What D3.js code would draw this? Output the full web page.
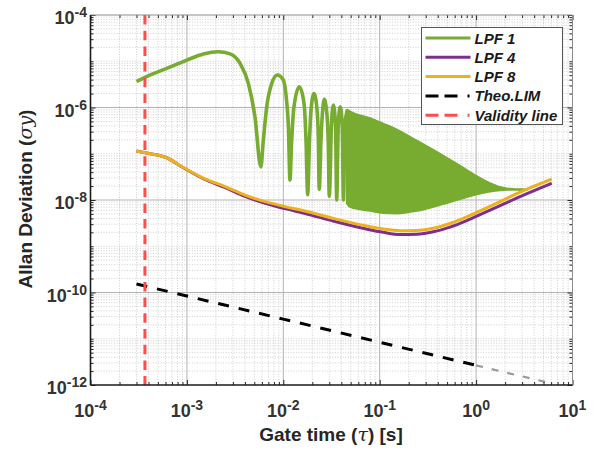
<!DOCTYPE html>
<html><head><meta charset="utf-8">
<script src="https://cdn.jsdelivr.net/npm/d3@7"></script>
<style>body{margin:0;background:#fff}</style>
</head><body>
<svg id="c" width="596" height="455"></svg>
<script>
// ---------------- data ----------------
const xTicks = [1e-4, 1e-3, 1e-2, 1e-1, 1, 10];
const xTickExp = ["-4", "-3", "-2", "-1", "0", "1"];
const yTicks = [1e-12, 1e-10, 1e-8, 1e-6, 1e-4];
const yTickExp = ["-12", "-10", "-8", "-6", "-4"];

const seriesNames = ["LPF 1", "LPF 4", "LPF 8", "Theo.LIM", "Validity line"];

// LPF 1: resolved lobes
const lpf1Tau = [3.0e-4, 3.67e-4, 6.17e-4, 1.0e-3, 1.48e-3, 2.12e-3, 2.80e-3, 3.56e-3, 4.34e-3, 5.08e-3,
  5.85e-3, 6.21e-3, 6.73e-3, 7.59e-3, 8.67e-3, 1.0e-2, 1.08e-2, 1.13e-2,
  1.172e-2, 1.222e-2, 1.291e-2, 1.465e-2, 1.64e-2, 1.72e-2,
  1.79e-2, 1.87e-2, 1.94e-2, 2.08e-2, 2.24e-2, 2.31e-2,
  2.36e-2, 2.46e-2, 2.54e-2, 2.66e-2, 2.84e-2, 2.93e-2,
  3.00e-2, 3.16e-2, 3.31e-2, 3.48e-2,
  3.58e-2, 3.72e-2, 3.90e-2, 4.08e-2,
  4.21e-2, 4.36e-2, 4.62e-2];
const lpf1Val = [3.65e-6, 4.5e-6, 7.0e-6, 1.06e-5, 1.44e-5, 1.61e-5, 1.44e-5, 9.0e-6, 3.33e-6, 6.3e-7,
  5.2e-8, 1.98e-7, 1.04e-6, 3.33e-6, 5.05e-6, 3.94e-6, 1.45e-6, 3.85e-7,
  2.7e-8, 1.98e-7, 1.04e-6, 2.8e-6, 1.23e-6, 1.98e-7,
  1.3e-8, 1.98e-7, 8.8e-7, 2.0e-6, 8.8e-7, 1.98e-7,
  1.7e-8, 1.98e-7, 6.9e-7, 1.5e-6, 6.9e-7, 1.56e-7,
  1.2e-8, 4.2e-7, 1.13e-6, 4.2e-7,
  1.0e-8, 4.2e-7, 1.04e-6, 4.2e-7,
  1.0e-8, 4.2e-7, 8.8e-7];
// LPF 1: dense oscillation band (upper / lower envelope)
const lpf1BandTau = [0.046, 0.0492, 0.0793, 0.109, 0.15, 0.242, 0.333, 0.536, 0.681, 1.01, 1.39, 1.77, 2.07, 2.41, 3.35];
const lpf1BandHi  = [8.8e-7, 8.1e-7, 5.8e-7, 4.4e-7, 3.3e-7, 1.9e-7, 1.31e-7, 7.3e-8, 5.4e-8, 3.26e-8, 2.3e-8, 1.88e-8, 1.76e-8, 1.70e-8, 1.66e-8];
const lpf1BandLo  = [8.5e-9, 7.2e-9, 5.9e-9, 5.3e-9, 5.2e-9, 5.9e-9, 6.9e-9, 9.2e-9, 1.06e-8, 1.35e-8, 1.55e-8, 1.65e-8, 1.68e-8, 1.70e-8, 1.66e-8];

const lpfTau = [3.0e-4, 3.7e-4, 6.0e-4, 9.5e-4, 1.5e-3, 2.5e-3, 4.0e-3, 6.5e-3, 1.04e-2, 1.68e-2, 0.033, 0.073, 0.109, 0.163, 0.242, 0.36, 0.536, 0.8, 1.19, 1.64, 2.5, 4.0, 6.1];
const lpf4Val = [1.15e-7, 1.05e-7, 8.4e-8, 4.8e-8, 2.85e-8, 1.85e-8, 1.2e-8, 8.5e-9, 6.5e-9, 5.1e-9, 3.5e-9, 2.35e-9, 2.0e-9, 1.8e-9, 1.82e-9, 2.05e-9, 2.6e-9, 3.6e-9, 5.2e-9, 7.0e-9, 1.05e-8, 1.6e-8, 2.3e-8];
const lpf8Val = [1.15e-7, 1.05e-7, 8.4e-8, 4.85e-8, 2.94e-8, 1.94e-8, 1.28e-8, 9.2e-9, 7.2e-9, 5.8e-9, 4.0e-9, 2.74e-9, 2.36e-9, 2.17e-9, 2.2e-9, 2.44e-9, 3.1e-9, 4.3e-9, 6.3e-9, 8.6e-9, 1.3e-8, 2.0e-8, 2.84e-8];

const theoTau = [3.0e-4, 1e-3, 1e-2, 1e-1, 1];
const theoVal = [1.53e-10, 8.4e-11, 2.66e-11, 8.4e-12, 2.66e-12];
const theoTailTau = [1, 2.5, 6];
const theoTailVal = [2.66e-12, 1.68e-12, 1.09e-12];

const validityTau = 3.67e-4;

// ---------------- layout ----------------
const svg = d3.select("#c");
const L = 90.5, R = 572.5, T = 15, B = 385;
const x = d3.scaleLog().domain([1e-4, 10]).range([L, R]);
const y = d3.scaleLog().domain([1e-12, 1e-4]).range([B, T]);
const FONT = "'Liberation Sans', Arial, Helvetica, sans-serif";
const C = {g: "#77AC30", p: "#7E2F8E", o: "#EDB120", r: "#FF4D4D", k: "#000"};

// minor positions
const xMinor = [];
for (let k = -4; k < 1; k++) for (let m = 2; m <= 9; m++) xMinor.push(m * Math.pow(10, k));
const yMinor = [];
for (let k = -12; k < -4; k++) for (let m = 1; m <= 9; m++) {
  const v = m * Math.pow(10, k);
  if (m === 1 && (k % 2 === 0)) continue;
  yMinor.push(v);
}

const grid = svg.append("g");
grid.selectAll(".gxm").data(xMinor).join("line")
  .attr("x1", d => x(d)).attr("x2", d => x(d)).attr("y1", T).attr("y2", B)
  .attr("stroke", "#c4c4c4").attr("stroke-width", 0.8).attr("stroke-dasharray", "1,1.6");
grid.selectAll(".gym").data(yMinor).join("line")
  .attr("y1", d => y(d)).attr("y2", d => y(d)).attr("x1", L).attr("x2", R)
  .attr("stroke", "#c4c4c4").attr("stroke-width", 0.8).attr("stroke-dasharray", "1,1.6");
grid.selectAll(".gx").data(xTicks.slice(1, -1)).join("line")
  .attr("x1", d => x(d)).attr("x2", d => x(d)).attr("y1", T).attr("y2", B)
  .attr("stroke", "#b3b3b3").attr("stroke-width", 1);
grid.selectAll(".gy").data(yTicks.slice(1, -1)).join("line")
  .attr("y1", d => y(d)).attr("y2", d => y(d)).attr("x1", L).attr("x2", R)
  .attr("stroke", "#b3b3b3").attr("stroke-width", 1);

// ---------------- series ----------------
const lineGen = d3.line().x(d => x(d[0])).y(d => y(d[1])).curve(d3.curveMonotoneX);
const zip = (a, b) => a.map((v, i) => [v, b[i]]);

// theo limit
svg.append("path").datum(zip(theoTau, theoVal)).attr("d", d3.line().x(d => x(d[0])).y(d => y(d[1])))
  .attr("fill", "none").attr("stroke", C.k).attr("stroke-width", 3).attr("stroke-dasharray", "11,10");
svg.append("path").datum(zip(theoTailTau, theoTailVal)).attr("d", d3.line().x(d => x(d[0])).y(d => y(d[1])))
  .attr("fill", "none").attr("stroke", "#9a9a9a").attr("stroke-width", 2.2).attr("stroke-dasharray", "7,9");

// LPF1 band
const band = lpf1BandTau.map((t, i) => [t, lpf1BandHi[i], lpf1BandLo[i]]);
svg.append("path").datum(band)
  .attr("d", d3.area().x(d => x(d[0])).y0(d => y(d[2])).y1(d => y(d[1])).curve(d3.curveMonotoneX))
  .attr("fill", C.g).attr("stroke", C.g).attr("stroke-width", 2.5).attr("stroke-linejoin", "round");
// LPF1 lobes
svg.append("path").datum(zip(lpf1Tau, lpf1Val)).attr("d", lineGen)
  .attr("fill", "none").attr("stroke", C.g).attr("stroke-width", 3.6).attr("stroke-linejoin", "round");

// LPF4, LPF8
svg.append("path").datum(zip(lpfTau, lpf4Val)).attr("d", lineGen)
  .attr("fill", "none").attr("stroke", C.p).attr("stroke-width", 3);
svg.append("path").datum(zip(lpfTau, lpf8Val)).attr("d", lineGen)
  .attr("fill", "none").attr("stroke", C.o).attr("stroke-width", 3);

// validity line
svg.append("line").attr("x1", x(validityTau)).attr("x2", x(validityTau)).attr("y1", y(1e-4)).attr("y2", y(1e-12))
  .attr("stroke", C.r).attr("stroke-width", 3).attr("stroke-dasharray", "9.5,6.2");

// ---------------- axes ----------------
function styleAxis(g) {
  g.select(".domain").remove();
  g.selectAll(".tick line").attr("stroke", "#262626").attr("stroke-width", 1);
}
svg.append("g").attr("transform", `translate(0,${B})`)
  .call(d3.axisBottom(x).tickValues(xTicks).tickSize(-5).tickFormat("")).call(styleAxis);
svg.append("g").attr("transform", `translate(0,${B})`)
  .call(d3.axisBottom(x).tickValues(xMinor).tickSize(-3).tickFormat("")).call(styleAxis);
svg.append("g").attr("transform", `translate(0,${T})`)
  .call(d3.axisTop(x).tickValues(xTicks).tickSize(-5).tickFormat("")).call(styleAxis);
svg.append("g").attr("transform", `translate(0,${T})`)
  .call(d3.axisTop(x).tickValues(xMinor).tickSize(-3).tickFormat("")).call(styleAxis);
svg.append("g").attr("transform", `translate(${L},0)`)
  .call(d3.axisLeft(y).tickValues(yTicks).tickSize(-5).tickFormat("")).call(styleAxis);
svg.append("g").attr("transform", `translate(${L},0)`)
  .call(d3.axisLeft(y).tickValues(yMinor).tickSize(-3).tickFormat("")).call(styleAxis);
svg.append("g").attr("transform", `translate(${R},0)`)
  .call(d3.axisRight(y).tickValues(yTicks).tickSize(-5).tickFormat("")).call(styleAxis);
svg.append("g").attr("transform", `translate(${R},0)`)
  .call(d3.axisRight(y).tickValues(yMinor).tickSize(-3).tickFormat("")).call(styleAxis);

// box
svg.append("line").attr("x1", L).attr("x2", R).attr("y1", T).attr("y2", T).attr("stroke", "#8c8c8c").attr("stroke-width", 1);
svg.append("line").attr("x1", R).attr("x2", R).attr("y1", T).attr("y2", B).attr("stroke", "#8c8c8c").attr("stroke-width", 1);
svg.append("line").attr("x1", L).attr("x2", R).attr("y1", B).attr("y2", B).attr("stroke", "#1a1a1a").attr("stroke-width", 1.6);
svg.append("line").attr("x1", L).attr("x2", L).attr("y1", T).attr("y2", B).attr("stroke", "#1a1a1a").attr("stroke-width", 1.6);

// tick labels
const xl = svg.append("g").attr("font-family", FONT).attr("font-weight", "bold").attr("fill", "#333");
xTicks.forEach((t, i) => {
  const tx = xl.append("text").attr("x", x(t)).attr("y", 417).attr("text-anchor", "middle").attr("font-size", 18);
  tx.append("tspan").text("10");
  tx.append("tspan").attr("font-size", 14).attr("dy", -7).text(xTickExp[i]);
});
yTicks.forEach((t, i) => {
  const ty = xl.append("text").attr("x", 87).attr("y", y(t) + 9).attr("text-anchor", "end").attr("font-size", 18);
  ty.append("tspan").text("10");
  ty.append("tspan").attr("font-size", 14).attr("dy", -7).text(yTickExp[i]);
});

// axis titles
const xt = svg.append("text").attr("x", 331).attr("y", 441).attr("text-anchor", "middle")
  .attr("font-family", FONT).attr("font-weight", "bold").attr("font-size", 19).attr("fill", "#262626");
xt.append("tspan").text("Gate time (");
xt.append("tspan").attr("font-family", "'DejaVu Serif', serif").attr("font-style", "italic").attr("font-weight", "normal").text("τ");
xt.append("tspan").text(") [s]");

const yt = svg.append("text").attr("transform", "translate(32,199) rotate(-90)").attr("text-anchor", "middle")
  .attr("font-family", FONT).attr("font-weight", "bold").attr("font-size", 19).attr("fill", "#262626");
yt.append("tspan").text("Allan Deviation (");
yt.append("tspan").attr("font-family", "'DejaVu Serif', serif").attr("font-style", "italic").attr("font-weight", "normal").text("σy");
yt.append("tspan").text(")");

// ---------------- legend ----------------
const lg = svg.append("g");
lg.append("rect").attr("x", 421.5).attr("y", 27.5).attr("width", 141).attr("height", 97)
  .attr("fill", "#fff").attr("stroke", "#555").attr("stroke-width", 1);
const legColors = [C.g, C.p, C.o, C.k, C.r];
const legDash = [null, null, null, "13,6,13,10,2,30", "13,6,13,10,2,30"];
seriesNames.forEach((n, i) => {
  const ry = 38 + i * 19.3;
  const ln = lg.append("line").attr("x1", 425.5).attr("x2", 470.5).attr("y1", ry).attr("y2", ry)
    .attr("stroke", legColors[i]).attr("stroke-width", 3);
  if (legDash[i]) ln.attr("stroke-dasharray", legDash[i]);
  lg.append("text").attr("x", 474.5).attr("y", ry + 5.5).attr("font-family", FONT)
    .attr("font-weight", "bold").attr("font-style", "italic").attr("font-size", 15).attr("fill", "#1a1a1a").text(n);
});
</script>
</body></html>
